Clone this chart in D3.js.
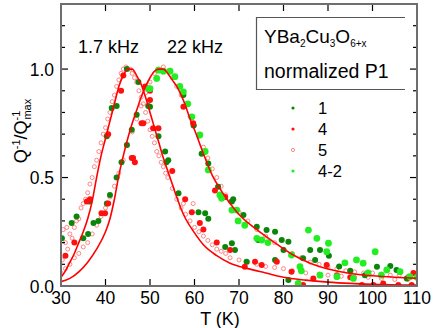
<!DOCTYPE html>
<html>
<head>
<meta charset="utf-8">
<script src="https://d3js.org/d3.v7.min.js"></script>
<style>
  body { margin: 0; background: #fff; }
  text { font-family: Arial, "Liberation Sans", sans-serif; fill: #000; }
</style>
</head>
<body>
<div id="chart"></div>
<script>

// fitted curves: [T, Q^-1/Q^-1max]
var curve17 = [[30,0.04],[31,0.07],[32,0.11],[33,0.15],[34,0.2],[35,0.25],[36,0.31],[37,0.39],[38,0.5],[39,0.6],[40,0.68],[41,0.76],[42,0.84],[43,0.92],[44,0.97],[45,1.0],[46,1.0],[47,0.97],[48,0.93],[49,0.87],[50,0.8],[51,0.73],[52,0.66],[53,0.59],[54,0.53],[55,0.47],[56,0.41],[57,0.355],[58,0.31],[60,0.245],[62,0.19],[65,0.14],[68,0.105],[72,0.08],[76,0.06],[80,0.04],[85,0.027],[90,0.018],[95,0.012],[100,0.008],[110,0.004]];
var curve22 = [[30,0.02],[32,0.035],[34,0.065],[36,0.11],[38,0.17],[40,0.25],[41,0.31],[42,0.4],[43,0.51],[44,0.6],[45,0.68],[46,0.75],[47,0.81],[48,0.87],[49,0.92],[50,0.96],[51,0.99],[52,1.0],[53,1.0],[54,0.98],[55,0.95],[56,0.92],[57,0.88],[58,0.83],[59,0.77],[60,0.72],[62,0.61],[64,0.51],[66,0.44],[68,0.38],[70,0.33],[74,0.26],[78,0.2],[82,0.145],[86,0.105],[90,0.078],[95,0.058],[100,0.047],[105,0.04],[110,0.035]];

// measured points per sample
var sample1 = [[30.2,0.22],[32.4,0.29],[33.5,0.32],[36.4,0.39],[35,0.22],[36.1,0.24],[37.3,0.29],[38.4,0.3],[40.3,0.38],[41,0.42],[42.5,0.5],[40.3,0.69],[41.4,0.82],[42.5,0.83],[43.6,0.57],[44.8,0.65],[44.8,1.0],[47.4,0.94],[45.9,0.72],[47,0.79],[49.6,0.83],[50,0.826],[51.9,0.69],[53.4,0.62],[54.1,0.58],[53.7,0.57],[57.5,0.88],[59.8,0.74],[61.6,0.61],[63.1,0.565],[56.4,0.427],[60.9,0.34],[62.4,0.335],[63.1,0.31],[68.4,0.197],[69.1,0.166],[71.7,0.112],[65.3,0.457],[68.4,0.39],[68.7,0.4],[71,0.327],[74,0.273],[76.2,0.258],[78.1,0.25],[79.6,0.212],[81.1,0.204],[74.3,0.212],[66.9,0.18],[80,0.166],[78.1,0.12],[86,0.166],[88.2,0.166],[84.4,0.128],[87.1,0.12],[90.2,0.14],[92.5,0.09],[95,0.07],[101,0.089],[104,0.092],[105.4,0.074],[81.1,0.028],[98.3,0.05],[107.7,0.035]];
var sample4 = [[31,0.14],[33,0.2],[35.8,0.39],[36.5,0.4],[39.1,0.335],[39.9,0.335],[40.6,0.38],[40.6,0.7],[43.5,0.9],[44,0.97],[45.9,0.59],[46.6,0.57],[46.2,0.59],[48.1,0.75],[48.5,0.75],[50.7,0.727],[51.9,0.727],[48.9,0.92],[50,0.9],[50,0.857],[55,0.53],[57.5,0.826],[59.7,0.75],[57.9,0.4],[59.4,0.34],[61.2,0.29],[62,0.26],[64.6,0.44],[66.9,0.41],[65,0.2],[68,0.166],[71.3,0.089],[73.6,0.112],[75.1,0.097],[78.5,0.112],[81.8,0.066],[83.3,0.005],[84.4,0.005],[86.7,0.035],[89.7,0.097],[92,0.05],[95,0.04],[97.6,0.005],[100.2,0.005],[102.4,0.012],[105.8,0.005],[108.8,0.005],[109.2,0.06]];
var sample5 = [[30.5,0.26],[31.3,0.27],[30.3,0.12],[31,0.2],[31.5,0.17],[32,0.24],[32.5,0.22],[33,0.27],[33.5,0.3],[34,0.31],[34.5,0.36],[35,0.38],[35.5,0.4],[36,0.43],[36.5,0.47],[37,0.5],[37.5,0.55],[38,0.58],[38.5,0.62],[39,0.66],[39.5,0.7],[40,0.73],[40.5,0.77],[41,0.8],[41.5,0.85],[42,0.88],[42.5,0.92],[43,0.95],[43.5,0.98],[44,1.0],[44.6,1.01],[45.5,1.0],[46,0.98],[46.5,0.96],[47,0.94],[47.5,0.9],[48,0.87],[48.5,0.84],[49,0.8],[49.5,0.76],[50,0.72],[50.5,0.69],[51,0.66],[51.5,0.62],[52,0.6],[52.5,0.57],[53,0.55],[53.5,0.52],[54,0.5],[55,0.45],[56,0.4],[57,0.36],[57.5,0.38],[58,0.33],[59,0.3],[59.7,0.38],[60,0.27],[61,0.25],[62,0.23],[63,0.21],[64,0.19],[65,0.17],[66,0.16],[67,0.15],[68,0.13],[70,0.12],[72,0.11],[74,0.1],[76,0.09],[78,0.085],[80,0.08],[82,0.07],[85,0.06],[88,0.055],[90,0.05],[93,0.045],[96,0.04],[99,0.04],[102,0.035],[105,0.03],[108,0.03],
  [30,0.06],[31,0.08],[32,0.1],[33,0.13],[34,0.15],[35,0.18],[36,0.2],[37,0.24],[38,0.28],[39,0.32],[40,0.36],[41,0.41],[42,0.46],[43,0.52],[44,0.58],[45,0.65],[46,0.71],[47,0.77],[48,0.83],[49,0.89],[50,0.94],[51,0.98],[52,1.0],[53,1.01],[54,0.99],[55,0.96],[56,0.92],[57,0.88],[58,0.83],[59,0.78],[60,0.74],[61,0.69],[62,0.64],[63,0.59],[64,0.54],[65,0.5],[66,0.46],[67,0.42],[68,0.39],[70,0.34],[72,0.3],[74,0.26],[76,0.23],[78,0.2],[80,0.17],[82,0.15],[84,0.13],[86,0.11],[88,0.1],[90,0.09],[92,0.08],[94,0.07],[96,0.065],[98,0.06],[100,0.06],[102,0.055],[104,0.05],[106,0.05],[108,0.045],[110,0.04]];
var sample42 = [[49.6,0.91],[50,0.91],[51.5,0.957],[51.9,0.995],[53,0.99],[54.5,0.99],[55.6,0.965],[56.7,0.92],[57.5,0.895],[58.5,0.84],[59.4,0.78],[61.2,0.696],[62.4,0.62],[63.1,0.535],[65.7,0.42],[66.1,0.404],[68.4,0.35],[69.5,0.35],[69.8,0.3],[71.3,0.28],[74,0.22],[75.1,0.212],[76.5,0.2],[81.8,0.143],[85.6,0.258],[87.5,0.22],[83.7,0.089],[84,0.07],[83.3,0.012],[88.2,0.05],[89.7,0.158],[90.1,0.197],[92,0.043],[93.8,0.107],[95.7,0.035],[96.4,0.12],[97.9,0.105],[99,0.06],[100.6,0.158],[102,0.05],[103.2,0.074],[106.2,0.066],[108.4,0.043],[110,0.04]];

var xTicks = [30, 40, 50, 60, 70, 80, 90, 100, 110];
var yTicks = [0.0, 0.5, 1.0];
var legendNames = ["1", "4", "5", "4-2"];

var W = 439, H = 328;
var svg = d3.select("#chart").append("svg").attr("width", W).attr("height", H);

var x = d3.scaleLinear().domain([30, 110]).range([61, 417]);
var y = d3.scaleLinear().domain([0, 1.3]).range([286, 4]);

var plot = svg.append("g");
svg.append("defs").append("clipPath").attr("id", "clip")
  .append("rect").attr("x", 61).attr("y", 4).attr("width", 356).attr("height", 282);
var marks = plot.append("g").attr("clip-path", "url(#clip)");

// hollow red points (sample 5)
marks.append("g").selectAll("circle").data(sample5).enter().append("circle")
  .attr("cx", function(d) { return x(d[0]); })
  .attr("cy", function(d) { return y(d[1]); })
  .attr("r", 2)
  .style("fill", "none").style("stroke", "#ff6a6a").style("stroke-width", 0.8);

marks.append("g").selectAll("circle").data(sample1).enter().append("circle")
  .attr("cx", function(d) { return x(d[0]); })
  .attr("cy", function(d) { return y(d[1]); })
  .attr("r", 3).style("fill", "#0a860a");

marks.append("g").selectAll("circle").data(sample4).enter().append("circle")
  .attr("cx", function(d) { return x(d[0]); })
  .attr("cy", function(d) { return y(d[1]); })
  .attr("r", 3).style("fill", "#ff1010");

marks.append("g").selectAll("circle").data(sample42).enter().append("circle")
  .attr("cx", function(d) { return x(d[0]); })
  .attr("cy", function(d) { return y(d[1]); })
  .attr("r", 3.4).style("fill", "#22ee22");

var line = d3.line().curve(d3.curveMonotoneX)
  .x(function(d) { return x(d[0]); })
  .y(function(d) { return y(d[1]); });
[curve17, curve22].forEach(function(c) {
  marks.append("path").attr("d", line(c))
    .style("fill", "none").style("stroke", "#ff0000").style("stroke-width", 1.6);
});

// axes, ticks pointing inward
var yMinor = d3.range(0, 1.31, 0.1);
var ax = plot.append("g").style("stroke", "#000").style("stroke-width", 1.2);
yMinor.forEach(function(v) {
  var major = Math.abs(v * 2 - Math.round(v * 2)) < 1e-6;
  var len = major ? 7 : 4;
  ax.append("line").attr("x1", 61).attr("x2", 61 + len).attr("y1", y(v)).attr("y2", y(v));
  ax.append("line").attr("x1", 417).attr("x2", 417 - len).attr("y1", y(v)).attr("y2", y(v));
});
xTicks.forEach(function(t) {
  ax.append("line").attr("x1", x(t)).attr("x2", x(t)).attr("y1", 286).attr("y2", 279);
  ax.append("line").attr("x1", x(t)).attr("x2", x(t)).attr("y1", 4).attr("y2", 11);
});

plot.append("rect").attr("x", 61).attr("y", 4).attr("width", 356).attr("height", 282)
  .style("fill", "none").style("stroke", "#6e6e6e").style("stroke-width", 2);

plot.selectAll(".xl").data(xTicks).enter().append("text")
  .attr("x", function(d) { return x(d); }).attr("y", 304)
  .attr("text-anchor", "middle").style("font-size", "17.5px")
  .text(function(d) { return d; });
plot.selectAll(".yl").data(yTicks).enter().append("text")
  .attr("x", 54).attr("y", function(d) { return y(d) + 6.5; })
  .attr("text-anchor", "end").style("font-size", "17.5px")
  .text(function(d) { return d.toFixed(1); });

svg.append("text").attr("x", 220).attr("y", 325).attr("text-anchor", "middle")
  .style("font-size", "18px").text("T (K)");

var yt = svg.append("text").attr("transform", "translate(27,131) rotate(-90)")
  .attr("text-anchor", "middle").style("font-size", "18px");
yt.append("tspan").text("Q");
yt.append("tspan").attr("dy", -7).style("font-size", "11px").text("-1");
yt.append("tspan").attr("dy", 7).text("/Q");
yt.append("tspan").attr("dy", -7).style("font-size", "11px").text("-1");
yt.append("tspan").attr("dy", 11).attr("dx", -9).style("font-size", "11px").text("max");

// frequency labels
svg.append("text").attr("x", 78).attr("y", 53).style("font-size", "18px").text("1.7 kHz");
svg.append("text").attr("x", 167).attr("y", 53).style("font-size", "18px").text("22 kHz");

// legend box
svg.append("path").attr("d", "M405,17.5 H256.5 V89.5 H405")
  .style("fill", "none").style("stroke", "#555").style("stroke-width", 1.2);
var f = svg.append("text").attr("x", 264).attr("y", 43).style("font-size", "19px");
f.append("tspan").text("YBa");
f.append("tspan").attr("dy", 4).style("font-size", "10px").text("2");
f.append("tspan").attr("dy", -4).text("Cu");
f.append("tspan").attr("dy", 4).style("font-size", "10px").text("3");
f.append("tspan").attr("dy", -4).text("O");
f.append("tspan").attr("dy", 4).style("font-size", "10px").text("6+x");
svg.append("text").attr("x", 264).attr("y", 78).style("font-size", "19.5px").text("normalized P1");

var legColors = ["#0a860a", "#ff1010", "#ff6a6a", "#22ee22"];
legendNames.forEach(function(n, i) {
  var ly = 108 + i * 21;
  var c = svg.append("circle").attr("cx", 293).attr("cy", ly).attr("r", 1.6);
  if (n === "5") c.style("fill", "none").style("stroke", legColors[i]).style("stroke-width", 0.8);
  else c.style("fill", legColors[i]);
  svg.append("text").attr("x", 318).attr("y", ly + 6).style("font-size", "16.5px").text(n);
});
</script>
</body>
</html>
